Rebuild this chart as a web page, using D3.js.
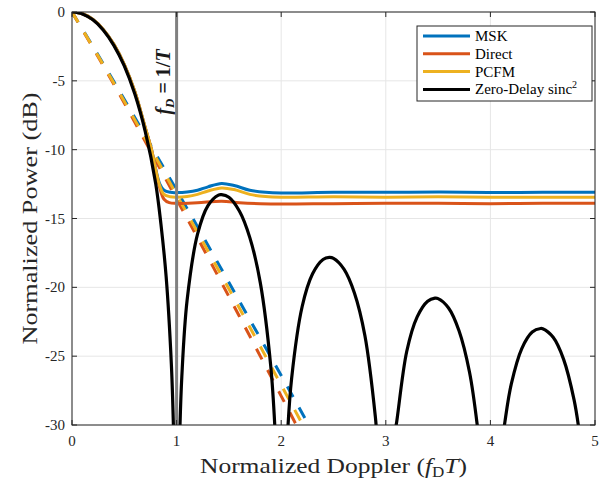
<!DOCTYPE html>
<meta charset="utf-8" />
<script src="https://d3js.org/d3.v7.min.js"></script>
<body style="margin:0;background:#fff">
<div id="my_dataviz"></div>
<script>
// tick values
const xTicks = [0, 1, 2, 3, 4, 5];
const yTicks = [0, -5, -10, -15, -20, -25, -30];
const seriesNames = ["MSK", "Direct", "PCFM", "Zero-Delay sinc"];

// solid curves [Doppler, dB]
const mskSolid = [[0,0],[0.1,-0.13],[0.2,-0.55],[0.3,-1.28],[0.4,-2.35],[0.5,-3.82],[0.6,-5.78],[0.7,-8.4],[0.76,-10],[0.8,-11.4],[0.84,-12.5],[0.88,-12.95],[0.94,-13.1],[1.0,-13.12],[1.1,-13.08],[1.2,-12.95],[1.3,-12.7],[1.43,-12.45],[1.55,-12.6],[1.7,-12.95],[1.85,-13.1],[2.0,-13.15],[2.5,-13.1],[3.0,-13.1],[3.5,-13.08],[4.0,-13.12],[4.5,-13.1],[5.0,-13.1]];
const directSolid = [[0,0],[0.1,-0.13],[0.2,-0.55],[0.3,-1.28],[0.4,-2.35],[0.5,-3.82],[0.6,-5.78],[0.7,-8.4],[0.76,-10],[0.8,-11.5],[0.84,-12.8],[0.88,-13.6],[0.93,-13.85],[1.0,-13.9],[1.2,-13.85],[1.43,-13.75],[1.6,-13.85],[1.8,-13.92],[2.0,-13.95],[2.5,-13.92],[3.0,-13.9],[3.5,-13.9],[4.0,-13.92],[4.5,-13.9],[5.0,-13.9]];
const pcfmSolid = [[0,0],[0.1,-0.13],[0.2,-0.55],[0.3,-1.28],[0.4,-2.35],[0.5,-3.82],[0.6,-5.78],[0.7,-8.4],[0.76,-10],[0.8,-11.45],[0.84,-12.65],[0.88,-13.25],[0.94,-13.42],[1.0,-13.45],[1.1,-13.4],[1.2,-13.25],[1.3,-13.0],[1.43,-12.78],[1.55,-12.9],[1.7,-13.25],[1.85,-13.4],[2.0,-13.45],[2.5,-13.42],[3.0,-13.45],[3.5,-13.42],[4.0,-13.45],[4.5,-13.45],[5.0,-13.45]];

// dashed curves [Doppler, dB]
const mskDashed = [[0,0],[0.4,-5.05],[0.8,-10.3],[1.2,-15.6],[1.6,-21.0],[2.0,-26.4],[2.3,-30.5]];
const directDashed = [[0,0],[0.4,-5.25],[0.8,-10.8],[1.2,-16.4],[1.6,-22.1],[2.0,-27.9],[2.2,-30.8]];
const pcfmDashed = [[0,0],[0.4,-5.15],[0.8,-10.55],[1.2,-16.0],[1.6,-21.5],[2.0,-27.1],[2.25,-30.6]];

// zero-delay sinc^2 lobes [Doppler, dB]
const sincLobes = [
  [[0,0],[0.1,-0.14],[0.2,-0.57],[0.3,-1.32],[0.4,-2.42],[0.5,-3.92],[0.6,-5.94],[0.7,-8.67],[0.8,-12.45],[0.85,-15.39],[0.9,-19.23],[0.95,-25.61],[0.97,-30.2]],
  [[1.03,-30.73],[1.05,-26.48],[1.1,-20.97],[1.2,-16.14],[1.3,-14.06],[1.4,-13.3],[1.43,-13.27],[1.5,-13.46],[1.6,-14.46],[1.7,-16.39],[1.8,-19.66],[1.9,-25.72],[1.94,-30.24]],
  [[2.06,-30.76],[2.1,-26.59],[2.2,-21.41],[2.3,-19.02],[2.4,-17.98],[2.46,-17.83],[2.5,-17.9],[2.6,-18.68],[2.7,-20.41],[2.8,-23.5],[2.9,-29.39],[2.91,-30.31]],
  [[3.09,-30.3],[3.1,-29.97],[3.2,-24.66],[3.3,-22.15],[3.4,-21.01],[3.47,-20.79],[3.5,-20.82],[3.6,-21.5],[3.7,-23.15],[3.8,-26.15],[3.875,-30.05]],
  [[4.13,-30.28],[4.14,-29.7],[4.2,-27.02],[4.3,-24.45],[4.4,-23.25],[4.48,-22.99],[4.5,-23.01],[4.6,-23.63],[4.7,-25.23],[4.8,-28.18],[4.85,-30.52]]
];
const markerDoppler = 1;

const colors = ["#0072BD", "#D95319", "#EDB120", "#000000"];
const font = "'Liberation Serif', 'DejaVu Serif', serif";

var margin = { top: 12, right: 12, bottom: 54, left: 72 },
  width = 607 - margin.left - margin.right,
  height = 479 - margin.top - margin.bottom;

var root = d3.select("#my_dataviz").append("svg")
  .attr("width", 607).attr("height", 479)
  .style("font-family", font);

var svg = root.append("g")
  .attr("transform", "translate(" + margin.left + "," + margin.top + ")");

var x = d3.scaleLinear().domain([0, 5]).range([0, width]);
var y = d3.scaleLinear().domain([-30, 0]).range([height, 0]);

svg.append("defs").append("clipPath").attr("id", "clip")
  .append("rect").attr("width", width).attr("height", height);

// grid
svg.append("g").selectAll("line").data(xTicks).join("line")
  .attr("x1", d => x(d)).attr("x2", d => x(d))
  .attr("y1", 0).attr("y2", height)
  .attr("stroke", "#e6e6e6").attr("stroke-width", 1);
svg.append("g").selectAll("line").data(yTicks).join("line")
  .attr("y1", d => y(d)).attr("y2", d => y(d))
  .attr("x1", 0).attr("x2", width)
  .attr("stroke", "#e6e6e6").attr("stroke-width", 1);

var line = d3.line().x(d => x(d[0])).y(d => y(d[1])).curve(d3.curveCatmullRom);
var plot = svg.append("g").attr("clip-path", "url(#clip)");

// dashed first, then solid
[mskDashed, directDashed, pcfmDashed].forEach(function (s, i) {
  plot.append("path").datum(s).attr("d", d3.line().x(d => x(d[0])).y(d => y(d[1])).curve(d3.curveMonotoneX))
    .attr("fill", "none").attr("stroke", colors[i]).attr("stroke-width", 3)
    .attr("stroke-dasharray", "12,12");
});
[mskSolid, directSolid, pcfmSolid].forEach(function (s, i) {
  plot.append("path").datum(s).attr("d", line)
    .attr("fill", "none").attr("stroke", colors[i]).attr("stroke-width", 3)
    .attr("stroke-linejoin", "round");
});

// f_D = 1/T marker
plot.append("line")
  .attr("x1", x(markerDoppler)).attr("x2", x(markerDoppler))
  .attr("y1", 0).attr("y2", height)
  .attr("stroke", "#808080").attr("stroke-width", 3);

sincLobes.forEach(function (s) {
  plot.append("path").datum(s).attr("d", line)
    .attr("fill", "none").attr("stroke", colors[3]).attr("stroke-width", 3.2);
});

var mk = svg.append("text")
  .attr("transform", "translate(" + (x(markerDoppler) - 7) + ",70) rotate(-90)")
  .attr("text-anchor", "middle")
  .style("font-size", "20px").style("font-weight", "bold").attr("fill", "#1a1a1a");
mk.append("tspan").style("font-style", "italic").text("f");
mk.append("tspan").style("font-style", "italic").style("font-size", "13px").attr("dy", 4).text("D");
mk.append("tspan").attr("dy", -4).text(" = 1/");
mk.append("tspan").style("font-style", "italic").text("T");

// box & ticks
svg.append("rect").attr("width", width).attr("height", height)
  .attr("fill", "none").attr("stroke", "#262626").attr("stroke-width", 1);
svg.append("g").selectAll("line").data(xTicks).join("line")
  .attr("x1", d => x(d)).attr("x2", d => x(d)).attr("y1", height).attr("y2", height - 5)
  .attr("stroke", "#262626");
svg.append("g").selectAll("line").data(xTicks).join("line")
  .attr("x1", d => x(d)).attr("x2", d => x(d)).attr("y1", 0).attr("y2", 5)
  .attr("stroke", "#262626");
svg.append("g").selectAll("line").data(yTicks).join("line")
  .attr("y1", d => y(d)).attr("y2", d => y(d)).attr("x1", 0).attr("x2", 5)
  .attr("stroke", "#262626");
svg.append("g").selectAll("line").data(yTicks).join("line")
  .attr("y1", d => y(d)).attr("y2", d => y(d)).attr("x1", width - 5).attr("x2", width)
  .attr("stroke", "#262626");

svg.append("g").selectAll("text").data(xTicks).join("text")
  .attr("x", d => x(d)).attr("y", height + 21)
  .attr("text-anchor", "middle").style("font-size", "15px").attr("fill", "#262626")
  .text(d => d);
svg.append("g").selectAll("text").data(yTicks).join("text")
  .attr("x", -7).attr("y", d => y(d) + 5)
  .attr("text-anchor", "end").style("font-size", "15px").attr("fill", "#262626")
  .text(d => d);

// axis labels
var xl = root.append("text")
  .attr("x", 200).attr("y", 473)
  .attr("textLength", 267).attr("lengthAdjust", "spacingAndGlyphs")
  .style("font-size", "21px").attr("fill", "#262626");
xl.append("tspan").text("Normalized Doppler (");
xl.append("tspan").style("font-style", "italic").text("f");
xl.append("tspan").style("font-size", "14px").attr("dy", 4).text("D");
xl.append("tspan").style("font-style", "italic").attr("dy", -4).text("T");
xl.append("tspan").text(")");

root.append("text")
  .attr("transform", "translate(37," + (margin.top + height / 2 + 126) + ") rotate(-90)")
  .attr("textLength", 252).attr("lengthAdjust", "spacingAndGlyphs")
  .style("font-size", "21px").attr("fill", "#262626")
  .text("Normalized Power (dB)");

// legend
var lg = root.append("g").attr("transform", "translate(417,26)");
lg.append("rect").attr("width", 175).attr("height", 75)
  .attr("fill", "#fff").attr("stroke", "#262626").attr("stroke-width", 1);
seriesNames.forEach(function (n, i) {
  var yy = 10 + i * 17.8;
  lg.append("line").attr("x1", 6).attr("x2", 53).attr("y1", yy).attr("y2", yy)
    .attr("stroke", colors[i]).attr("stroke-width", 3);
  var t = lg.append("text").attr("x", 58).attr("y", yy + 5)
    .style("font-size", "15px").attr("fill", "#000").text(n);
  if (i === 3) {
    t.append("tspan").attr("dy", -6).style("font-size", "10px").text("2");
  }
});
</script>
</body>
